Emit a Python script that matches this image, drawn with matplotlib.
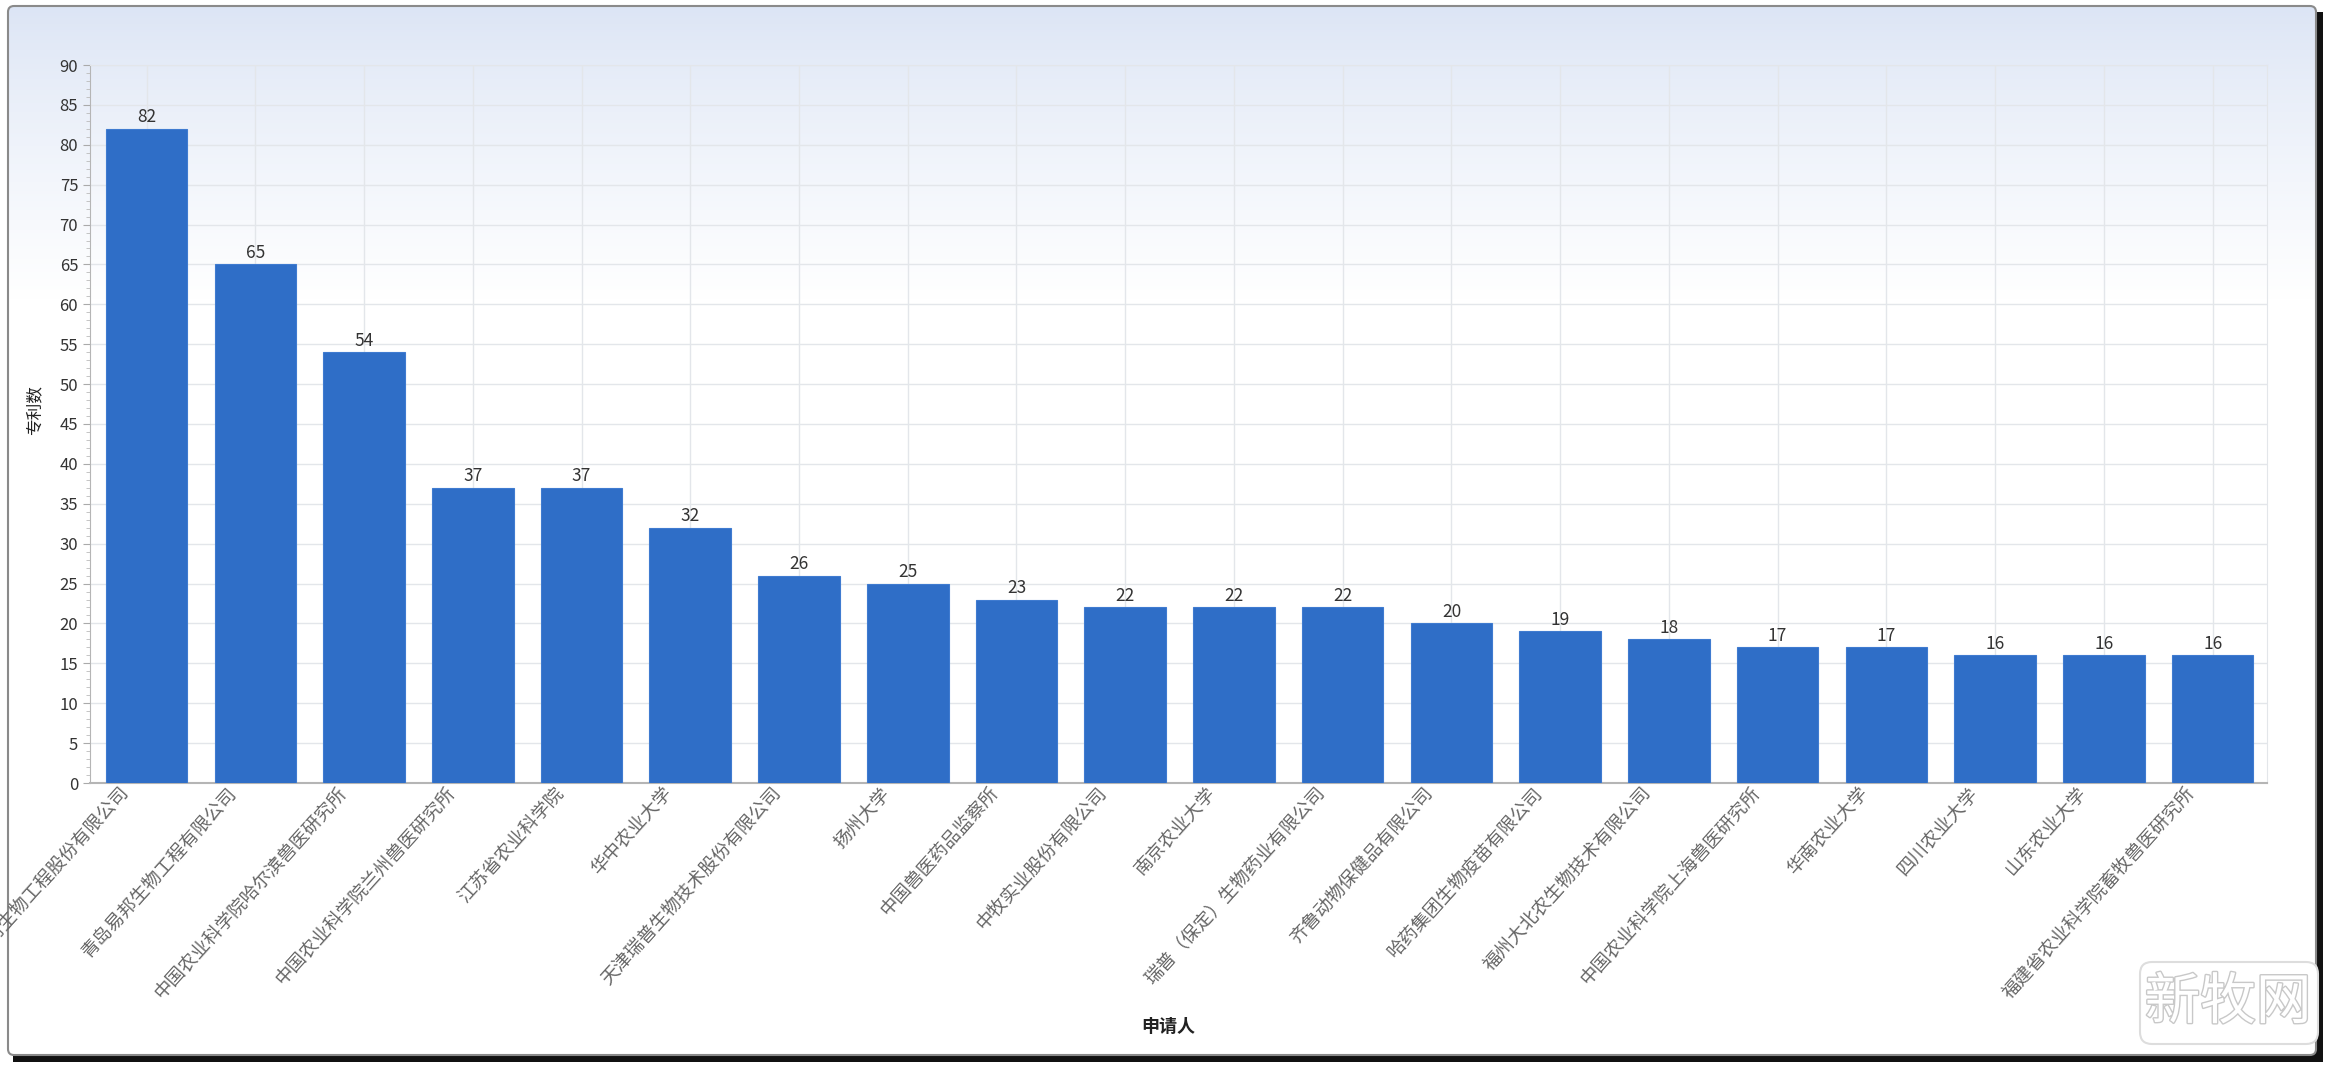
import numpy as np
import matplotlib
matplotlib.use("Agg")
import matplotlib.pyplot as plt
import matplotlib.patheffects as pe
import matplotlib.transforms as mtransforms
from matplotlib.patches import FancyBboxPatch, Rectangle
from matplotlib.ticker import MultipleLocator

plt.rcParams['font.family'] = ['Noto Sans CJK SC', 'DejaVu Sans']

# 数据
applicants = [
    "普莱柯生物工程股份有限公司", "青岛易邦生物工程有限公司",
    "中国农业科学院哈尔滨兽医研究所", "中国农业科学院兰州兽医研究所",
    "江苏省农业科学院", "华中农业大学", "天津瑞普生物技术股份有限公司",
    "扬州大学", "中国兽医药品监察所", "中牧实业股份有限公司",
    "南京农业大学", "瑞普（保定）生物药业有限公司", "齐鲁动物保健品有限公司",
    "哈药集团生物疫苗有限公司", "福州大北农生物技术有限公司",
    "中国农业科学院上海兽医研究所", "华南农业大学", "四川农业大学",
    "山东农业大学", "福建省农业科学院畜牧兽医研究所",
]
patents = [82, 65, 54, 37, 37, 32, 26, 25, 23, 22, 22, 22, 20, 19, 18, 17, 17, 16, 16, 16]
y_ticks = list(range(0, 91, 5))

W, H = 2332, 1068
fig = plt.figure(figsize=(W / 100, H / 100), dpi=100)
fig.patch.set_facecolor('white')

# 背景：外框 + 渐变
bg = fig.add_axes([0, 0, 1, 1], zorder=-10)
bg.set_xlim(0, W)
bg.set_ylim(H, 0)
bg.axis('off')
bg.add_patch(Rectangle((13, 12), 2310, 1050, facecolor='#111111', edgecolor='none', zorder=0))
frame = FancyBboxPatch((8, 6), 2308, 1049, boxstyle="round,pad=0,rounding_size=6",
                       facecolor='white', edgecolor='none', zorder=1)
bg.add_patch(frame)
grad = np.linspace(0, 1, 256)
top = np.array([0.86, 0.895, 0.96])
colors = top[None, :] + (1 - top[None, :]) * np.clip(grad[:, None] ** 0.8, 0, 1)
img = bg.imshow(colors[:, None, :], extent=(8, 2316, 300, 6), aspect='auto', zorder=2)
img.set_clip_path(frame)
bg.add_patch(FancyBboxPatch((8, 6), 2308, 1049, boxstyle="round,pad=0,rounding_size=6",
                            facecolor='none', edgecolor='#8a8a8a', linewidth=1.5, zorder=3))

# 水印
bg.add_patch(FancyBboxPatch((2140, 962), 178, 82, boxstyle="round,pad=0,rounding_size=12",
                            facecolor='white', edgecolor='#dddddd', linewidth=1.5, zorder=4))
bg.text(2228, 1003, '新牧网', ha='center', va='center', fontsize=40, color='white', zorder=5,
        path_effects=[pe.withStroke(linewidth=2, foreground='#c8c8c8')])

ax = fig.add_axes([90 / W, 1 - 783 / H, (2267 - 90) / W, (783 - 65) / H])
ax.patch.set_alpha(0)

x = np.arange(len(applicants))
ax.bar(x, patents, width=0.75, color='#2f6ec7', edgecolor='#3f7bd0', linewidth=0.8, zorder=3)
for xi, v in zip(x, patents):
    ax.text(xi, v + 0.3, str(v), ha='center', va='bottom', fontsize=12.5, color='#333333', zorder=4)

ax.set_xlim(-0.52, len(applicants) - 0.5)
ax.set_ylim(0, 90)
ax.set_yticks(y_ticks)
ax.yaxis.set_minor_locator(MultipleLocator(1))
ax.tick_params(axis='y', which='major', labelsize=12, labelcolor='#333333', length=5, color='#aaaaaa')
ax.tick_params(axis='y', which='minor', length=3, color='#bbbbbb')
ax.set_xticks(x)
ax.set_xticklabels(applicants, rotation=48, ha='right', rotation_mode='anchor',
                   fontsize=13.3, color='#666666')
ax.tick_params(axis='x', length=0, pad=1)
shift = mtransforms.ScaledTranslation(-0.27, 0, fig.dpi_scale_trans)
for lbl in ax.get_xticklabels():
    lbl.set_transform(lbl.get_transform() + shift)

ax.grid(True, color='#e3e6ea', linewidth=1, zorder=0)
for s in ['top', 'right']:
    ax.spines[s].set_color('#e3e6ea')
ax.spines['left'].set_color('#b5b5b5')
ax.spines['bottom'].set_color('#b5b5b5')
ax.spines['bottom'].set_linewidth(1.5)

ax.set_ylabel('专利数', fontsize=12, color='#222222')
ax.yaxis.set_label_coords(-0.0215, 0.52)
fig.text(1168 / W, 1 - 1027 / H, '申请人', ha='center', va='center', fontsize=13,
         color='#222222', fontweight='bold')

fig.savefig('out.png', dpi=100)
